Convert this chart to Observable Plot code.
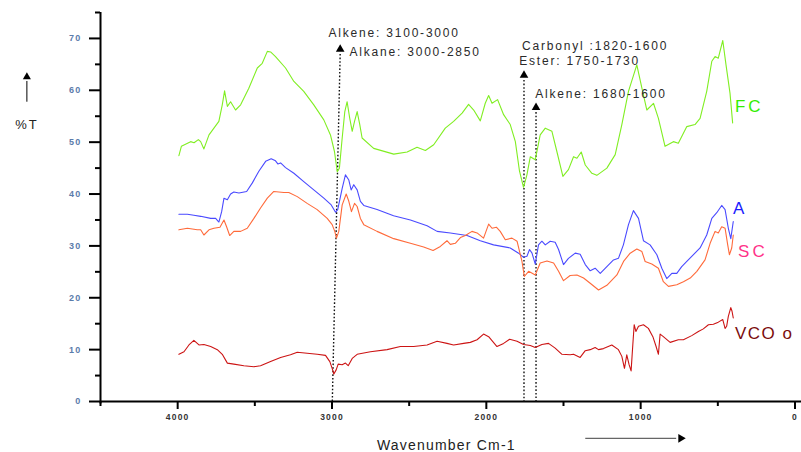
<!DOCTYPE html>
<html><head><meta charset="utf-8">
<script src="https://cdn.jsdelivr.net/npm/d3@7"></script>
<script src="https://cdn.jsdelivr.net/npm/@observablehq/plot@0.6"></script>
<style>
body{margin:0;background:#fff;}
#chart{width:801px;height:452px;overflow:hidden;}
#chart svg{font-family:"Liberation Sans",Arial,sans-serif;display:block;}
</style></head><body><div id="chart"></div>
<script>
// ---- data (wavenumber cm-1, %T) ----
const fcWave = [3992,3976,3916,3894,3866,3851,3830,3797,3765,3733,3711,3696,3678,3657,3625,3592,3539,3484,3452,3419,3398,3366,3301,3247,3183,3118,3053,3010,2984,2966,2952,2934,2917,2902,2885,2869,2854,2837,2820,2805,2730,2600,2513,2449,2395,2341,2266,2212,2157,2115,2082,2039,2007,1985,1963,1927,1888,1845,1812,1785,1759,1737,1715,1683,1651,1618,1575,1543,1504,1468,1435,1413,1385,1359,1316,1284,1219,1165,1122,1079,1025,992,960,917,885,842,788,756,701,648,615,572,539,518,497,468,447,421,404];
const fcT = [47.4,49.2,50.1,49.9,50.5,50.1,48.7,51.4,52.7,54.0,57.2,59.9,56.9,57.8,56.2,57.2,60.4,64.3,65.2,67.5,67.4,66.5,64.3,61.7,59.8,57.2,54.3,51.4,48.2,44.3,45.0,50.8,55.9,57.8,54.6,52.1,54.0,55.9,53.4,50.8,48.8,47.7,48.1,49.0,48.4,49.5,52.7,54.0,55.6,57.3,56.2,54.1,57.5,59.0,57.5,58.2,55.3,53.4,50.1,44.4,41.3,43.7,47.2,46.6,51.4,52.7,52.1,48.2,43.4,44.7,47.2,46.9,48.1,45.6,44.0,43.6,45.0,47.6,53.4,59.8,64.9,60.4,56.2,57.5,54.6,49.2,50.1,49.8,53.0,53.4,54.6,59.8,65.6,66.5,66.2,69.6,64.9,59.4,53.7];

const aWave = [3992,3937,3895,3851,3786,3754,3733,3715,3700,3678,3657,3636,3603,3553,3517,3474,3430,3394,3366,3351,3333,3301,3247,3183,3118,3053,3005,2977,2963,2934,2913,2891,2876,2859,2837,2816,2794,2708,2601,2492,2384,2319,2233,2125,2039,1953,1845,1791,1759,1737,1720,1704,1683,1662,1640,1618,1586,1554,1532,1500,1468,1424,1392,1359,1327,1295,1262,1219,1176,1144,1112,1079,1047,1014,982,939,895,863,831,798,766,734,701,658,615,572,539,507,475,453,432,416,400];
const aT = [36.1,36.1,35.9,35.7,35.3,35.3,34.6,36.6,39.2,38.9,40.0,40.4,40.2,40.5,42.1,44.4,46.3,46.8,46.4,45.8,46.0,45.1,44.0,42.4,40.8,39.2,37.9,36.5,37.0,41.1,43.7,42.7,40.8,41.8,40.8,38.6,37.8,37.0,35.8,35.0,33.9,32.8,32.5,32.0,31.0,30.2,29.6,28.6,27.8,28.0,29.3,28.6,26.5,30.2,30.9,30.2,30.9,30.7,29.3,26.4,27.6,28.6,28.4,26.4,25.2,25.7,24.7,26.0,27.3,27.6,30.2,34.1,36.8,35.3,31.0,30.2,28.3,25.7,23.7,24.7,24.7,26.0,27.0,28.3,29.6,32.1,35.3,36.4,37.8,37.0,33.4,31.4,34.7];

const scWave = [3992,3937,3873,3851,3830,3797,3765,3726,3700,3683,3663,3636,3592,3549,3506,3463,3419,3377,3312,3280,3225,3161,3096,3031,2999,2982,2971,2956,2934,2908,2891,2874,2854,2837,2816,2794,2708,2600,2492,2406,2345,2298,2255,2233,2201,2168,2136,2093,2060,2018,1985,1963,1935,1910,1877,1834,1801,1769,1754,1726,1683,1651,1607,1564,1532,1500,1457,1413,1370,1327,1273,1219,1154,1111,1068,1025,992,971,928,885,853,820,766,723,679,636,583,550,518,497,475,453,436,425,410,400];
const scT = [33.1,33.4,33.1,33.1,32.1,33.1,33.4,33.6,35.0,33.7,32.0,32.8,32.8,33.4,35.3,37.3,39.2,40.5,40.3,40.3,39.5,38.2,37.0,35.3,34.1,32.8,31.5,32.8,37.9,40.0,38.6,36.6,38.2,37.6,35.3,34.1,32.8,31.4,30.5,29.8,29.1,29.9,31.0,30.3,30.5,31.6,32.0,32.8,32.5,31.5,34.2,33.4,33.6,32.8,31.2,31.5,30.9,27.0,24.1,25.1,24.4,26.7,27.1,26.7,25.1,23.3,24.3,24.4,23.8,22.8,21.5,22.4,24.4,27.0,28.6,29.4,28.9,27.0,26.5,25.7,23.1,22.2,22.5,23.1,23.8,25.1,27.3,30.5,32.8,32.5,33.7,33.4,30.2,28.3,29.6,32.1];

const vcoWave = [3992,3959,3927,3895,3873,3862,3830,3786,3743,3711,3678,3636,3571,3506,3463,3398,3333,3269,3225,3161,3096,3042,3014,2999,2988,2973,2960,2934,2913,2895,2869,2837,2751,2643,2557,2471,2384,2319,2255,2212,2147,2104,2060,2018,1985,1931,1888,1849,1801,1759,1715,1683,1640,1597,1554,1510,1457,1435,1392,1359,1327,1295,1273,1241,1187,1144,1122,1105,1090,1075,1062,1051,1042,1031,1014,982,950,921,900,885,874,853,809,756,723,669,626,594,561,529,497,468,453,443,432,416,408,400];
const vcoT = [9.1,9.6,10.9,11.8,11.2,10.9,11.0,10.6,10.0,9.1,7.4,7.2,6.9,6.7,6.9,7.7,8.5,9.0,9.5,9.3,9.1,8.9,7.7,6.4,5.3,6.1,7.2,7.1,7.4,6.9,8.3,9.1,9.6,10.0,10.6,10.6,10.9,11.6,11.2,10.9,11.2,11.4,11.9,13.0,12.5,10.6,11.2,12.0,11.6,11.0,10.8,10.4,11.0,11.2,10.3,9.1,9.0,9.1,8.5,9.8,10.0,10.4,10.0,10.2,10.9,10.0,8.7,6.4,9.0,7.1,5.9,10.9,14.8,13.5,14.5,14.8,14.1,12.5,10.6,9.1,13.0,12.5,11.4,11.9,11.9,12.7,13.5,14.0,14.8,14.9,15.3,15.8,14.1,14.5,16.4,18.1,17.4,16.1];

const seriesNames = ["FC", "A", "SC", "VCO o"];
const seriesLabelX = [389, 402, 369, 389];
const seriesLabelY = [56.9, 37.2, 28.9, 13.1];

const xMajorTicks = [4000, 3000, 2000, 1000, 0];
const xMinorTicks = [4500, 3500, 2500, 1500, 500];
const yMajorTicks = [0, 10, 20, 30, 40, 50, 60, 70];
const yMinorTicks = [5, 15, 25, 35, 45, 55, 65, 75];

const annText = ["Alkene: 3100-3000", "Alkane: 3000-2850", "Carbonyl :1820-1600", "Ester: 1750-1730", "Alkene: 1680-1600"];
const annTextX = [3023, 2887, 1769, 1787, 1683];
const annTextY = [71.0, 67.3, 68.5, 65.6, 59.2];
const markTopX = [2947, 1756, 1678];
const markBottomX = [2998, 1756, 1678];
const markTopY = [67.9, 62.9, 56.7];

// ---- styling ----
const lineColors = ["#80ee22", "#4a4aff", "#ff6a3a", "#cc1414"];
const labelColors = ["#33ee00", "#1a1aff", "#ff3388", "#7a0c0c"];

const seriesData = [
  [fcWave, fcT], [aWave, aT], [scWave, scT], [vcoWave, vcoT]
].map(([w, t], k) => w.map((x, i) => ({x, y: t[i], s: seriesNames[k]})));

const labels = seriesNames.map((name, i) => ({name, x: seriesLabelX[i], y: seriesLabelY[i], c: labelColors[i]}));
const anns = annText.map((t, i) => ({t, x: annTextX[i], y: annTextY[i]}));
const markers = markTopX.map((x, i) => ({x1: x, x2: markBottomX[i], y1: markTopY[i] - 0.9, yTip: markTopY[i]}));

const yArrowX = 4977;   // position of the "%T" marker outside the frame
const xArrow = [{x1: 1359, x2: 770, y: -7.1, tip: 740}];

const chart = Plot.plot({
  width: 801, height: 452,
  marginLeft: 100, marginRight: 6.5, marginTop: 12, marginBottom: 51,
  x: {domain: [4500, 0], axis: null},
  y: {domain: [0, 75], axis: null},
  style: {background: "#fff", fontFamily: "'Liberation Sans', Arial, sans-serif"},
  marks: [
    Plot.ruleX([4500], {y1: -0.5, y2: 75, stroke: "#000", strokeWidth: 2}),
    Plot.ruleY([0], {x1: 4500, x2: -200, stroke: "#000", strokeWidth: 2}),
    Plot.axisY(yMajorTicks, {anchor: "left", tickSize: 11, tickPadding: 8, stroke: "#000", strokeWidth: 2, fill: "#5b7cab", fontSize: 9, fontWeight: "bold", label: null}),
    Plot.axisY(yMinorTicks, {anchor: "left", tickSize: 5, text: null, stroke: "#000", strokeWidth: 2, label: null}),
    Plot.axisX(xMajorTicks, {anchor: "bottom", tickSize: 8, tickPadding: 4, stroke: "#000", strokeWidth: 2, fill: "#333", fontSize: 8.5, fontWeight: "bold", label: null, tickFormat: d => String(d)}),
    Plot.axisX(xMinorTicks, {anchor: "bottom", tickSize: 5, text: null, stroke: "#000", strokeWidth: 2, label: null}),
    Plot.link(markers, {x1: "x1", y1: "y1", x2: "x2", y2: 0, stroke: "#111", strokeWidth: 1.4, strokeDasharray: "1.6,2"}),
    Plot.dot(markers, {x: "x1", y: "yTip", symbol: "triangle", r: 3.2, fill: "#000", stroke: "none"}),
    ...seriesData.map((d, k) => Plot.line(d, {x: "x", y: "y", stroke: lineColors[k], strokeWidth: 1.1})),
    Plot.text(labels, {x: "x", y: "y", text: "name", fill: "c", fontSize: 17, textAnchor: "start"}),
    Plot.text(anns, {x: "x", y: "y", text: "t", fill: "#2a2a2a", fontSize: 12, textAnchor: "start"}),
    Plot.link([0], {x1: yArrowX, x2: yArrowX, y1: 57.8, y2: 61.8, stroke: "#000", strokeWidth: 1}),
    Plot.dot([0], {x: yArrowX, y: 62.6, symbol: "triangle", r: 3, fill: "#000", stroke: "none"}),
    Plot.text(["%T"], {x: yArrowX, y: 53.4, text: d => d, fontSize: 13, fill: "#222", textAnchor: "middle"}),
    Plot.text(["Wavenumber Cm-1"], {x: 2259, y: -8.5, text: d => d, fontSize: 14, fill: "#222", textAnchor: "middle"}),
    Plot.link(xArrow, {x1: "x1", x2: "x2", y1: "y", y2: "y", stroke: "#666", strokeWidth: 1.3}),
    Plot.dot(xArrow, {x: "tip", y: "y", symbol: "triangle", rotate: 90, r: 3.2, fill: "#000", stroke: "none"})
  ]
});

chart.querySelectorAll("text").forEach(t => {
  const s = t.textContent;
  if (annText.includes(s)) t.setAttribute("letter-spacing", "1.8");
  else if (s === "VCO o") t.setAttribute("letter-spacing", "1.5");
  else if (seriesNames.includes(s)) t.setAttribute("letter-spacing", "3");
  else if (s === "Wavenumber Cm-1") t.setAttribute("letter-spacing", "1.2");
  else if (s === "%T") t.setAttribute("letter-spacing", "2");
  else if (/^\d+$/.test(s)) t.setAttribute("letter-spacing", "1.2");
});
document.getElementById("chart").appendChild(chart);
</script>
</body></html>
